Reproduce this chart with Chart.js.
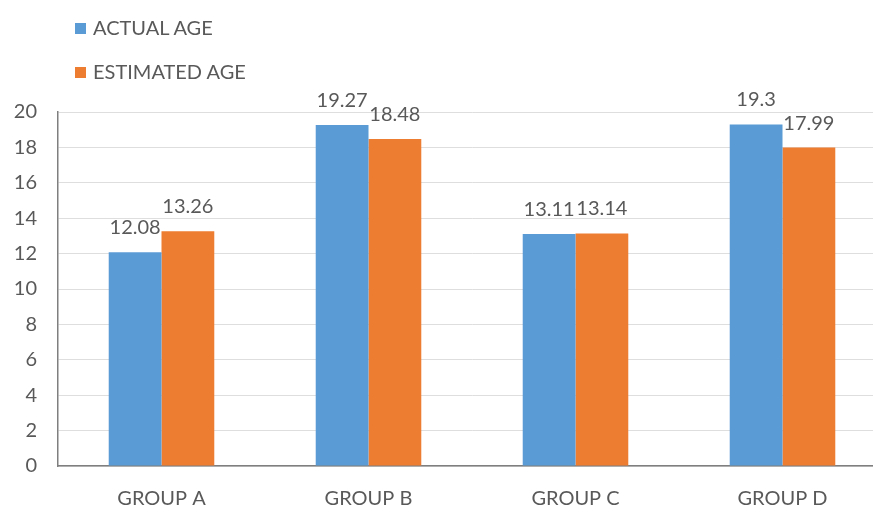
<!DOCTYPE html>
<html>
<head>
<meta charset="utf-8">
<script src="https://cdn.jsdelivr.net/npm/chart.js@4"></script>
<style>
  html, body { margin: 0; padding: 0; background: #fff; overflow: hidden; }
  #wrap { position: relative; width: 890px; height: 506px; }
  #legend { position: absolute; left: 75px; top: 14px; font-family: Lato, "Open Sans", sans-serif; font-size: 20px; color: #595959; }
  #legend div { height: 44px; line-height: 26px; }
  #legend span.box { display: inline-block; width: 11px; height: 11px; margin-right: 7px; vertical-align: 1px; }
</style>
</head>
<body>
<div id="wrap">
  <canvas id="myChart" width="890" height="506"></canvas>
  <div id="legend"></div>
</div>
<script>
const labels = ['GROUP A', 'GROUP B', 'GROUP C', 'GROUP D'];
const actualAge = [12.08, 19.27, 13.11, 19.3];
const estimatedAge = [13.26, 18.48, 13.14, 17.99];
const yTicks = [0, 2, 4, 6, 8, 10, 12, 14, 16, 18, 20];

const textColor = '#595959';
const fontFamily = 'Lato, "Open Sans", sans-serif';

// value labels above each bar
const barValues = {
    id: 'barValues',
    afterDatasetsDraw(chart) {
        const c = chart.ctx;
        c.save();
        c.font = '20px ' + fontFamily;
        c.fillStyle = '#595959';
        c.textAlign = 'center';
        c.textBaseline = 'alphabetic';
        chart.data.datasets.forEach((ds, i) => {
            chart.getDatasetMeta(i).data.forEach((bar, j) => {
                c.fillText(String(ds.data[j]), bar.x, bar.y - 18);
            });
        });
        c.restore();
    }
};

const ctx = document.getElementById('myChart');
const data = {
    labels: labels,
    datasets: [{
        label: 'ACTUAL AGE',
        data: actualAge,
        backgroundColor: '#5B9BD5'
    }, {
        label: 'ESTIMATED AGE',
        data: estimatedAge,
        backgroundColor: '#ED7D31'
    }]
};

var chart = new Chart(ctx, {
    type: 'bar',
    data: data,
    plugins: [barValues],
    options: {
        responsive: false,
        animation: false,
        layout: { padding: { top: 112, right: 4 } },
        datasets: {
            bar: { categoryPercentage: 0.51, barPercentage: 1 }
        },
        plugins: {
            legend: { display: false },
            tooltip: { enabled: false }
        },
        scales: {
            x: {
                grid: { display: false, drawTicks: false },
                border: { color: '#7f7f7f', width: 1.5 },
                ticks: { color: textColor, font: { family: fontFamily, size: 20 }, padding: 21 },
                afterFit(axis) { axis.height = 40; }
            },
            y: {
                min: 0,
                max: 20,
                afterBuildTicks(axis) { axis.ticks = yTicks.map(v => ({ value: v })); },
                grid: { color: '#dedede', drawTicks: false },
                border: { color: '#7f7f7f', width: 1.5 },
                ticks: { color: textColor, font: { family: fontFamily, size: 20 }, padding: 21 },
                afterFit(axis) { axis.width = 58; }
            }
        }
    }
});

// stacked legend in the top-left corner
const legendEl = document.getElementById('legend');
data.datasets.forEach(ds => {
    const row = document.createElement('div');
    const box = document.createElement('span');
    box.className = 'box';
    box.style.background = ds.backgroundColor;
    row.appendChild(box);
    row.appendChild(document.createTextNode(ds.label));
    legendEl.appendChild(row);
});
</script>
</body>
</html>
